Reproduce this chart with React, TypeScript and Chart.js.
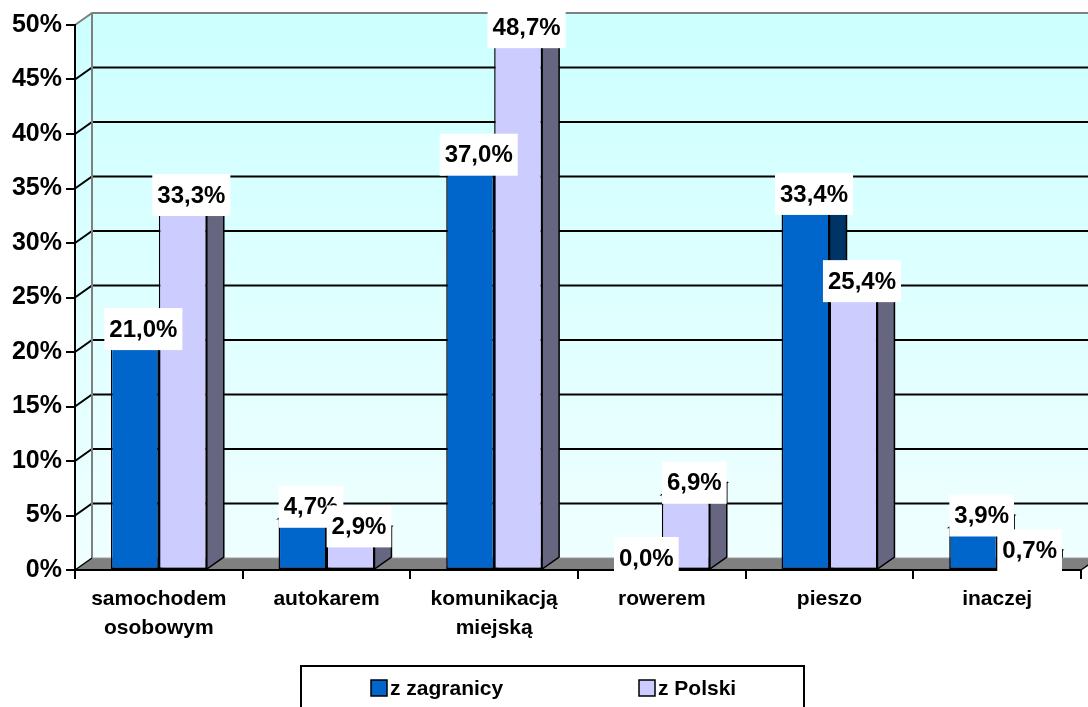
import React, { useEffect, useRef } from "react";
import { Chart, registerables } from "chart.js";

Chart.register(...registerables);

const categories: (string | string[])[] = [
  ["samochodem", "osobowym"],
  "autokarem",
  ["komunikacją", "miejską"],
  "rowerem",
  "pieszo",
  "inaczej",
];
const seriesNames = ["z zagranicy", "z Polski"];
const zagranicy = [21.0, 4.7, 37.0, 0.0, 33.4, 3.9];
const polski = [33.3, 2.9, 48.7, 6.9, 25.4, 0.7];
const yMax = 50;
const yStep = 5;

const frontColors = ["#0066CC", "#CCCCFF"];
const sideColors = ["#003366", "#666680"];
const topColors = ["#0050A0", "#A6A6DD"];

const FONT = "'Liberation Sans', Arial, sans-serif";
const DX = 17;
const DY = -12;

const fmt = (v: number) => v.toFixed(1).replace(".", ",") + "%";

function poly(ctx: CanvasRenderingContext2D, pts: number[][], fill: string, stroke = "#000", lw = 1.5) {
  ctx.beginPath();
  ctx.moveTo(pts[0][0], pts[0][1]);
  for (let i = 1; i < pts.length; i++) ctx.lineTo(pts[i][0], pts[i][1]);
  ctx.closePath();
  ctx.fillStyle = fill;
  ctx.fill();
  if (stroke) {
    ctx.strokeStyle = stroke;
    ctx.lineWidth = lw;
    ctx.stroke();
  }
}

const threeD = {
  id: "threeD",
  beforeDraw(chart: any) {
    const { ctx, chartArea: ca, scales } = chart;
    const y = scales.y;
    const x0 = ca.left;
    const x1 = ca.right;
    const yTop = y.getPixelForValue(yMax);
    const yBot = y.getPixelForValue(0);
    ctx.save();
    const g = ctx.createLinearGradient(0, yTop + DY, 0, yBot);
    g.addColorStop(0, "#CCFFFF");
    g.addColorStop(1, "#F0FFFF");
    ctx.beginPath();
    ctx.moveTo(x0, yBot);
    ctx.lineTo(x0, yTop);
    ctx.lineTo(x0 + DX, yTop + DY);
    ctx.lineTo(x1 + DX, yTop + DY);
    ctx.lineTo(x1 + DX, yBot + DY);
    ctx.lineTo(x0 + DX, yBot + DY);
    ctx.closePath();
    ctx.fillStyle = g;
    ctx.fill();

    for (let v = yStep; v < yMax; v += yStep) {
      const yy = y.getPixelForValue(v);
      ctx.beginPath();
      ctx.moveTo(x0, yy);
      ctx.lineTo(x0 + DX, yy + DY);
      ctx.lineTo(x1 + DX, yy + DY);
      ctx.strokeStyle = "#000";
      ctx.lineWidth = 2;
      ctx.stroke();
    }
    ctx.beginPath();
    ctx.moveTo(x0, yTop);
    ctx.lineTo(x0 + DX, yTop + DY);
    ctx.lineTo(x1 + DX, yTop + DY);
    ctx.moveTo(x0 + DX, yTop + DY);
    ctx.lineTo(x0 + DX, yBot + DY);
    ctx.strokeStyle = "#808080";
    ctx.lineWidth = 2;
    ctx.stroke();

    poly(ctx, [[x0, yBot], [x1, yBot], [x1 + DX, yBot + DY], [x0 + DX, yBot + DY]], "#808080", "", 0);
    ctx.beginPath();
    ctx.moveTo(x0 + DX, yBot + DY);
    ctx.lineTo(x1 + DX, yBot + DY);
    ctx.strokeStyle = "#9a9a9a";
    ctx.lineWidth = 1;
    ctx.stroke();
    ctx.beginPath();
    ctx.moveTo(x0, yBot);
    ctx.lineTo(x0 + DX, yBot + DY);
    ctx.moveTo(x1, yBot);
    ctx.lineTo(x1 + DX, yBot + DY);
    ctx.strokeStyle = "#000";
    ctx.lineWidth = 1.5;
    ctx.stroke();
    ctx.restore();
  },
  beforeDatasetsDraw(chart: any) {
    const { ctx } = chart;
    ctx.save();
    chart.data.datasets.forEach((ds: any, di: number) => {
      const meta = chart.getDatasetMeta(di);
      meta.data.forEach((bar: any, i: number) => {
        const v = ds.data[i];
        if (!v) return;
        const { x, y, base, width } = bar.getProps(["x", "y", "base", "width"], true);
        const l = x - width / 2;
        const r = x + width / 2;
        poly(ctx, [[r, y], [r + DX, y + DY], [r + DX, base + DY], [r, base]], sideColors[di]);
        poly(ctx, [[l, y], [r, y], [r + DX, y + DY], [l + DX, y + DY]], topColors[di]);
      });
    });
    ctx.restore();
  },
  afterDatasetsDraw(chart: any) {
    const { ctx } = chart;
    ctx.save();
    ctx.font = `bold 24px ${FONT}`;
    ctx.textAlign = "center";
    ctx.textBaseline = "middle";
    chart.data.datasets.forEach((ds: any, di: number) => {
      const meta = chart.getDatasetMeta(di);
      meta.data.forEach((bar: any, i: number) => {
        const v = ds.data[i];
        const { x, y } = bar.getProps(["x", "y"], true);
        const txt = fmt(v);
        const w = ctx.measureText(txt).width + 10;
        const h = 42;
        const cx = x + DX / 2;
        const cy = y - 12;
        ctx.fillStyle = "#FFFFFF";
        ctx.fillRect(cx - w / 2, cy - h / 2, w, h);
        ctx.fillStyle = "#000";
        ctx.fillText(txt, cx, cy + 1);
      });
    });
    ctx.restore();
  },
  afterDraw(chart: any) {
    const { ctx } = chart;
    ctx.save();
    ctx.strokeStyle = "#000";
    ctx.lineWidth = 2;
    ctx.strokeRect(301, 666, 503, 50);
    const items = [
      { sx: 371, tx: 390 },
      { sx: 639, tx: 658 },
    ];
    ctx.font = `bold 21px ${FONT}`;
    ctx.textBaseline = "middle";
    ctx.textAlign = "left";
    chart.data.datasets.forEach((ds: any, di: number) => {
      const it = items[di];
      ctx.fillStyle = frontColors[di];
      ctx.fillRect(it.sx, 680, 16, 16);
      ctx.lineWidth = 1.5;
      ctx.strokeStyle = "#000";
      ctx.strokeRect(it.sx, 680, 16, 16);
      ctx.fillStyle = "#000";
      ctx.fillText(ds.label, it.tx, 689);
    });
    ctx.restore();
  },
};

export default function App() {
  const ref = useRef<HTMLCanvasElement | null>(null);
  useEffect(() => {
    document.body.style.margin = "0";
    document.body.style.background = "#FFFFFF";
    const canvas = ref.current;
    if (!canvas) return;
    Chart.defaults.font.family = FONT;
    const chart = new Chart(canvas, {
      type: "bar",
      data: {
        labels: categories,
        datasets: [
          {
            label: seriesNames[0],
            data: zagranicy,
            backgroundColor: frontColors[0],
            borderColor: "#000",
            borderWidth: 1.5,
            borderSkipped: false,
            categoryPercentage: 0.572,
            barPercentage: 1,
          },
          {
            label: seriesNames[1],
            data: polski,
            backgroundColor: frontColors[1],
            borderColor: "#000",
            borderWidth: 1.5,
            borderSkipped: false,
            categoryPercentage: 0.572,
            barPercentage: 1,
          },
        ],
      },
      options: {
        responsive: false,
        animation: false,
        layout: { padding: { left: 0, top: 25, right: 7, bottom: 0 } },
        plugins: {
          legend: { display: false },
          tooltip: { enabled: false },
          title: { display: false },
        },
        scales: {
          x: {
            afterFit: (s: any) => {
              s.height = 137;
            },
            grid: {
              offset: true,
              drawOnChartArea: false,
              drawTicks: true,
              tickLength: 9,
              color: "#000",
              lineWidth: 2,
            },
            border: { display: true, color: "#000", width: 2 },
            ticks: {
              color: "#000",
              font: { size: 21, weight: "bold", lineHeight: 1.38 },
              padding: 6,
              maxRotation: 0,
              autoSkip: false,
            },
          },
          y: {
            min: 0,
            max: yMax,
            afterFit: (s: any) => {
              s.width = 75;
            },
            grid: {
              drawOnChartArea: false,
              drawTicks: true,
              tickLength: 9,
              color: "#000",
              lineWidth: 2,
            },
            border: { display: true, color: "#000", width: 2 },
            ticks: {
              stepSize: yStep,
              color: "#000",
              font: { size: 25, weight: "bold" },
              padding: 4,
              callback: (v: any) => v + "%",
            },
          },
        },
      },
      plugins: [threeD],
    });
    return () => chart.destroy();
  }, []);
  return <canvas ref={ref} width={1088} height={707} style={{ display: "block" }} />;
}
